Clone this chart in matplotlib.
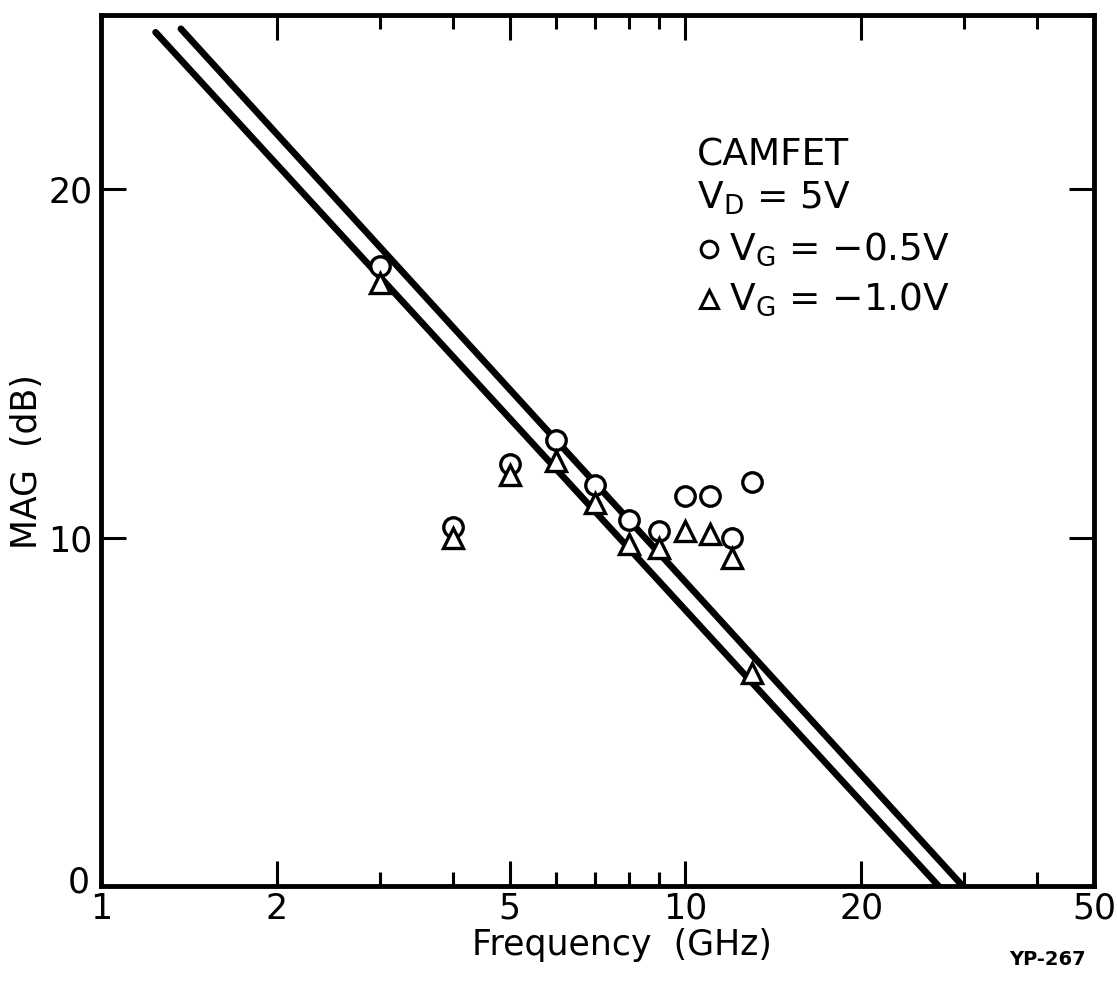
import matplotlib
matplotlib.use("Agg")
import matplotlib.pyplot as plt
import matplotlib.transforms as mtransforms
from matplotlib.ticker import FixedLocator, NullFormatter

# measured points (GHz, dB)
freq = [3, 4, 5, 6, 7, 8, 9, 10, 11, 12, 13]
mag_vg05 = [17.8, 10.3, 12.1, 12.8, 11.5, 10.5, 10.2, 11.2, 11.2, 10.0, 11.6]
mag_vg10 = [17.3, 10.0, 11.8, 12.2, 11.0, 9.8, 9.7, 10.2, 10.1, 9.4, 6.1]

# the two straight lines (end points)
line1_f = [1.24, 27.1]
line1_mag = [24.5, 0.0]
line2_f = [1.37, 29.8]
line2_mag = [24.6, 0.0]

xticks = [1, 2, 5, 10, 20, 50]
xticks_minor = [3, 4, 6, 7, 8, 9, 30, 40]
yticks = [0, 10, 20]

plt.rcParams['font.family'] = ['DejaVu Sans']
plt.rcParams['mathtext.fontset'] = 'dejavusans'

fig = plt.figure(figsize=(11.17, 9.91), dpi=100)
ax = fig.add_axes([0.0904, 0.106, 0.889, 0.879])

ax.plot(line1_f, line1_mag, color='black', lw=4.8, solid_capstyle='round')
ax.plot(line2_f, line2_mag, color='black', lw=4.8, solid_capstyle='round')

ax.plot(freq, mag_vg05, 'o', ms=14, mfc='white', mec='black', mew=2.4, zorder=3)
ax.plot(freq, mag_vg10, '^', ms=15, mfc='white', mec='black', mew=2.4, zorder=3)

ax.set_xscale('log')
ax.set_xlim(1, 50)
ax.set_ylim(0, 25)

ax.xaxis.set_major_locator(FixedLocator(xticks))
ax.xaxis.set_minor_locator(FixedLocator(xticks_minor))
ax.xaxis.set_minor_formatter(NullFormatter())
ax.set_xticklabels([str(t) for t in xticks])
ax.set_yticks(yticks)
ax.set_yticklabels([str(t) for t in yticks])

for s in ax.spines.values():
    s.set_linewidth(3.5)

ax.tick_params(which='major', direction='in', length=18, width=2.2,
               top=True, right=True, labelsize=25, pad=4)
ax.tick_params(which='minor', direction='in', length=10, width=2.2,
               top=True, right=True)
ax.tick_params(axis='y', pad=6)

# the "0" sits a little above the corner, as in the original
ax.get_yticklabels()[0].set_transform(
    ax.get_yticklabels()[0].get_transform()
    + mtransforms.ScaledTranslation(-2 / 72, 5 / 72, fig.dpi_scale_trans))

ax.set_xlabel('Frequency  (GHz)', fontsize=25, labelpad=2)
ax.set_ylabel('MAG  (dB)', fontsize=25, labelpad=3)
ax.xaxis.label.set_x(0.525)
ax.yaxis.label.set_y(0.487)

# annotation block
tx = 0.60
ax.text(tx, 0.839, 'CAMFET', transform=ax.transAxes, fontsize=27, va='center')
ax.text(tx, 0.789, r'V$_\mathregular{D}$ = 5V', transform=ax.transAxes, fontsize=27, va='center')
ax.plot([tx + 0.012], [0.731], 'o', ms=12, mfc='white', mec='black', mew=2.2,
        transform=ax.transAxes, clip_on=False)
ax.text(tx + 0.032, 0.731, r'V$_\mathregular{G}$ = $-$0.5V', transform=ax.transAxes, fontsize=27, va='center')
ax.plot([tx + 0.012], [0.674], '^', ms=13, mfc='white', mec='black', mew=2.2,
        transform=ax.transAxes, clip_on=False)
ax.text(tx + 0.032, 0.674, r'V$_\mathregular{G}$ = $-$1.0V', transform=ax.transAxes, fontsize=27, va='center')

fig.text(0.972, 0.032, 'YP-267', fontsize=14, fontweight='bold', ha='right', va='center')

fig.savefig('out.png', dpi=100)
